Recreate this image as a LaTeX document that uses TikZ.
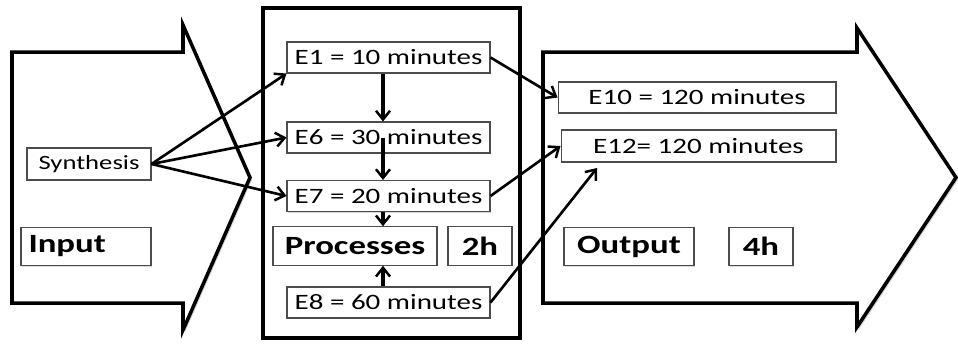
\documentclass[tikz,border=0pt]{standalone}
\usepackage{fontspec}
\setmainfont[FakeStretch=1.32]{Carlito}
\usetikzlibrary{arrows.meta,shadows}

\tikzset{
  bigshape/.style={draw=black,line width=2pt,fill=white,line join=miter,
    drop shadow={shadow xshift=1.2pt,shadow yshift=-1.2pt,opacity=0.35}},
  ebox/.style={draw=black!70,line width=0.6pt,fill=white,inner sep=0pt,
    minimum width=4.06cm,minimum height=0.62cm,font=\fontsize{12.5}{14}\selectfont,
    drop shadow={shadow xshift=0.6pt,shadow yshift=-0.6pt,opacity=0.3}},
  tagbox/.style={draw=black!70,line width=0.6pt,fill=white,inner sep=0pt,
    minimum height=0.77cm,font=\bfseries\fontsize{15}{17}\selectfont,
    drop shadow={shadow xshift=0.6pt,shadow yshift=-0.6pt,opacity=0.3}},
  flow/.style={line width=1.5pt,-{Straight Barb[length=5pt,width=8pt,line width=1.4pt]}},
  downflow/.style={flow,line width=2pt},
}

\begin{document}
\begin{tikzpicture}[x=0.02cm,y=-0.02cm]
				\useasboundingbox (0,0) rectangle (958,343);
				% big arrows and frame
				\draw[bigshape] (12,52) -- (183,52) -- (183,25) -- (250,177.5)
				  -- (183,330) -- (183,303) -- (12,303) -- cycle;
				\draw[bigshape] (543,52) -- (857,52) -- (857,28) -- (956,177.5)
				  -- (857,327) -- (857,303) -- (543,303) -- cycle;
				\draw[bigshape] (263,8) rectangle (520,338);
				% input side
				\node[ebox,minimum width=2.48cm,minimum height=0.64cm,
				  font=\fontsize{11.5}{13}\selectfont] (syn) at (89,164) {Synthesis};
				\node[tagbox,minimum width=2.6cm,text width=2.3cm] (inp) at (86,246.5) {Input};
				% processes
				\node[ebox] (e1) at (388.5,57.5) {E1 = 10 minutes};
				\node[ebox] (e6) at (388.5,137.5) {E6 = 30 minutes};
				\node[ebox] (e7) at (388.5,196) {E7 = 20 minutes};
				\node[ebox] (e8) at (388.5,302.5) {E8 = 60 minutes};
				\node[tagbox,minimum width=3.28cm] (proc) at (355,246) {Processes};
				\node[tagbox,minimum width=1.28cm] (two) at (480,246) {2h};
				% output side
				\node[ebox,minimum width=5.56cm] (e10) at (697,97.5) {E10 = 120 minutes};
				\node[ebox,minimum width=5.5cm,minimum height=0.64cm] (e12) at (698.5,146) {E12= 120 minutes};
				\node[tagbox,minimum width=2.6cm] (outp) at (629,246.5) {Output};
				\node[tagbox,minimum width=1.28cm] (four) at (761,246.5) {4h};
				\coordinate (e12in) at (597,168);
				% connectors
				\draw[flow] (syn.east) -- (e1.south west);
				\draw[flow] (syn.east) -- (e6.west);
				\draw[flow] (syn.east) -- (e7.west);
				\draw[downflow] (e1.south -| 383,0) -- (e6.north -| 383,0);
				\draw[downflow] (e6.center -| 383,0) -- (e7.north -| 383,0);
				\draw[downflow] (e7.south -| 383,0) -- (proc.north -| 383,0);
				\draw[downflow] (e8.north -| 383,0) -- (proc.south -| 383,0);
				\draw[flow] (e1.east) -- (e10.west);
				\draw[flow] (e7.east) -- (e12.west);
				\draw[flow] (e8.east) -- (e12in);
			\end{tikzpicture}
\end{document}
